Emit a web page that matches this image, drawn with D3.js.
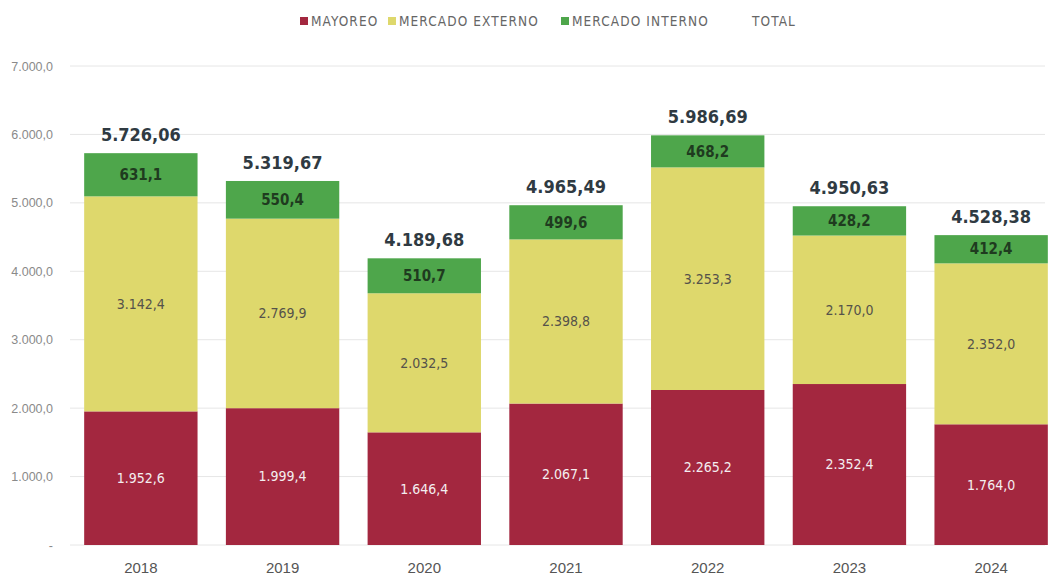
<!DOCTYPE html>
<html>
<head>
<meta charset="utf-8">
<script src="https://cdn.jsdelivr.net/npm/d3@7"></script>
<style>
    body { margin: 0; background: #fff; }
    svg { display: block; font-family: "Liberation Sans Narrow", "DejaVu Sans Condensed", Roboto, sans-serif; }
</style>
</head>
<body>
<svg id="chart" width="1050" height="577"></svg>
<script>
    // values
    var years = ['2018', '2019', '2020', '2021', '2022', '2023', '2024'];
    var mayoreo = [1952.6, 1999.4, 1646.4, 2067.1, 2265.2, 2352.4, 1764.0];
    var mercadoExterno = [3142.4, 2769.9, 2032.5, 2398.8, 3253.3, 2170.0, 2352.0];
    var mercadoInterno = [631.1, 550.4, 510.7, 499.6, 468.2, 428.2, 412.4];
    var totals = [5726.06, 5319.67, 4189.68, 4965.49, 5986.69, 4950.63, 4528.38];
    var yTicks = [0, 1000, 2000, 3000, 4000, 5000, 6000, 7000];

    var seriesNames = ['MAYOREO', 'MERCADO EXTERNO', 'MERCADO INTERNO'];
    var seriesColors = ['#a3273f', '#ded86c', '#4ea64b'];
    var labelColors = ['#f4eef0', '#55524a', '#1f3b1f'];

    var locale = d3.formatLocale({ decimal: ',', thousands: '.', grouping: [3], currency: ['', ''] });
    var fmt1 = locale.format(',.1f');
    var fmt2 = locale.format(',.2f');

    var svg = d3.select('#chart');
    var margin = { left: 70, right: 0, top: 66, bottom: 32 };
    var width = 1062 - margin.left;
    var zeroY = 545;

    var x = d3.scaleBand().domain(years).range([margin.left, margin.left + width]).paddingInner(0.2).paddingOuter(0.1);
    var y = d3.scaleLinear().domain([0, 7000]).range([zeroY, margin.top]);

    // grid lines
    svg.append('g')
        .selectAll('line')
        .data(yTicks)
        .join('line')
        .attr('x1', margin.left)
        .attr('x2', 1045)
        .attr('y1', function(d) { return y(d); })
        .attr('y2', function(d) { return y(d); })
        .attr('stroke', '#e6e6e6')
        .attr('stroke-width', 1);

    // y axis labels
    var yAxis = d3.axisLeft(y).tickValues(yTicks).tickSize(0).tickPadding(0)
        .tickFormat(function(d) { return d === 0 ? '-' : fmt1(d); });
    svg.append('g')
        .attr('transform', 'translate(53,0)')
        .call(yAxis)
        .call(function(g) { g.select('.domain').remove(); })
        .selectAll('text')
        .attr('fill', '#8a8a8a')
        .style('font-size', '12.5px')
        .style('font-family', 'inherit');

    // stacked data
    var rows = years.map(function(yr, i) {
        return { year: yr, s0: mayoreo[i], s1: mercadoExterno[i], s2: mercadoInterno[i], total: totals[i] };
    });
    var stack = d3.stack().keys(['s0', 's1', 's2'])(rows);

    var layers = svg.append('g').selectAll('g')
        .data(stack)
        .join('g')
        .attr('fill', function(d, i) { return seriesColors[i]; });

    layers.selectAll('rect')
        .data(function(d) { return d; })
        .join('rect')
        .attr('x', function(d) { return x(d.data.year); })
        .attr('width', x.bandwidth())
        .attr('y', function(d) { return y(d[1]); })
        .attr('height', function(d) { return y(d[0]) - y(d[1]); });

    // segment labels
    stack.forEach(function(layer, li) {
        svg.append('g').selectAll('text')
            .data(layer)
            .join('text')
            .attr('x', function(d) { return x(d.data.year) + x.bandwidth() / 2; })
            .attr('y', function(d) { return (y(d[0]) + y(d[1])) / 2; })
            .attr('dy', '0.35em')
            .attr('text-anchor', 'middle')
            .attr('fill', labelColors[li])
            .style('font-size', li === 2 ? '15px' : '14px')
            .style('font-weight', li === 2 ? 'bold' : 'normal')
            .text(function(d) { return fmt1(d[1] - d[0]); });
    });

    // totals
    svg.append('g').selectAll('text')
        .data(rows)
        .join('text')
        .attr('x', function(d) { return x(d.year) + x.bandwidth() / 2; })
        .attr('y', function(d) { return y(d.s0 + d.s1 + d.s2) - 12; })
        .attr('text-anchor', 'middle')
        .attr('fill', '#2f3a42')
        .style('font-size', '18px')
        .style('font-weight', 'bold')
        .text(function(d) { return fmt2(d.total); });

    // x axis
    var xAxis = d3.axisBottom(x).tickSize(0).tickPadding(0);
    svg.append('g')
        .attr('transform', 'translate(0,' + (zeroY + 17) + ')')
        .call(xAxis)
        .call(function(g) { g.select('.domain').remove(); })
        .selectAll('text')
        .attr('fill', '#555')
        .style('font-size', '15px')
        .style('font-family', 'inherit');

    // legend
    var legendItems = seriesNames.concat(['TOTAL']);
    var legendX = [300, 388, 561, 741];
    var legend = svg.append('g').selectAll('g')
        .data(legendItems)
        .join('g')
        .attr('transform', function(d, i) { return 'translate(' + legendX[i] + ',21)'; });
    legend.filter(function(d, i) { return i < 3; })
        .append('rect')
        .attr('x', 0).attr('y', -4).attr('width', 8).attr('height', 8)
        .attr('fill', function(d, i) { return seriesColors[i]; });
    legend.append('text')
        .attr('x', 11)
        .attr('dy', '0.35em')
        .attr('fill', '#666')
        .style('font-size', '13.5px')
        .style('letter-spacing', '1.1px')
        .text(function(d) { return d; });
</script>
</body>
</html>
